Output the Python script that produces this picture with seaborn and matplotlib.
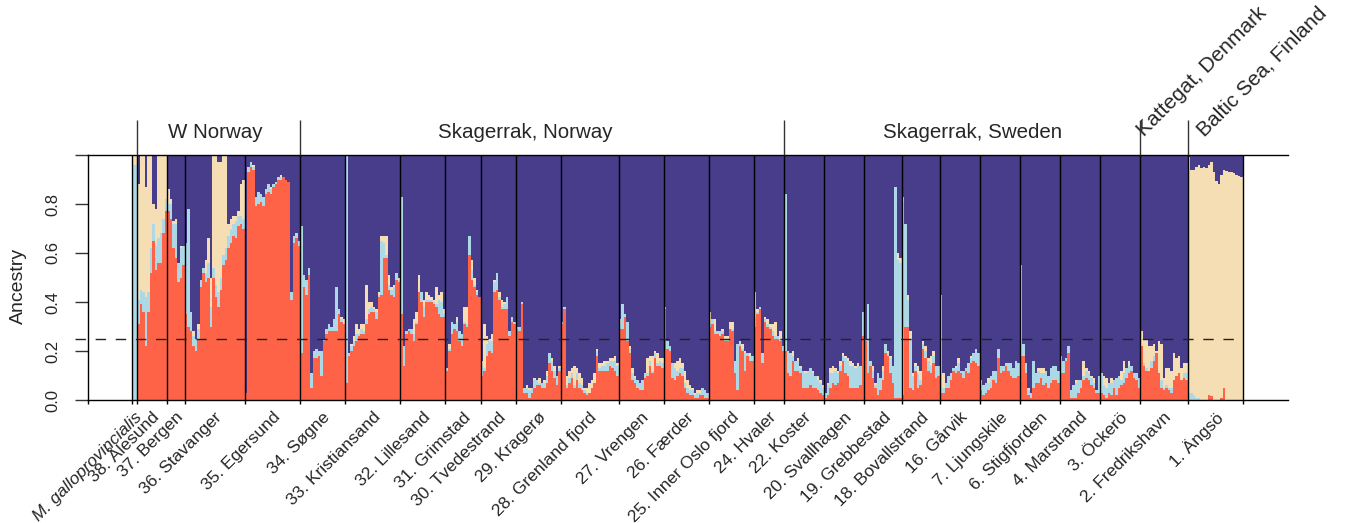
import numpy as np
import pandas as pd
import matplotlib
matplotlib.use("Agg")
import matplotlib.pyplot as plt
import matplotlib.transforms as mtransforms
import seaborn as sns

# ---------------- data ----------------
pop_labels = ["M. galloprovincialis", "38. Ålesund", "37. Bergen", "36. Stavanger",
              "35. Egersund", "34. Søgne", "33. Kristiansand", "32. Lillesand",
              "31. Grimstad", "30. Tvedestrand", "29. Kragerø", "28. Grenland fjord",
              "27. Vrengen", "26. Færder", "25. Inner Oslo fjord", "24. Hvaler",
              "22. Koster", "20. Svallhagen", "19. Grebbestad", "18. Bovallstrand",
              "16. Gårvik", "7. Ljungskile", "6. Stigfjorden", "4. Marstrand",
              "3. Öckerö", "2. Fredrikshavn", "1. Ängsö"]

# ancestry component K1 (red), per individual, per population
red = [
    [0.0, 0.0],
    [0.31, 0.39, 0.36, 0.22, 0.36, 0.52, 0.65, 0.53, 0.56, 0.56, 0.68, 0.77],
    [0.77, 0.74, 0.62, 0.58, 0.48, 0.50, 0.55],
    [0.35, 0.30, 0.28, 0.22, 0.20, 0.25, 0.46, 0.52, 0.48, 0.50, 0.30, 0.50,
     0.42, 0.38, 0.45, 0.55, 0.57, 0.62, 0.64, 0.67, 0.66, 0.71, 0.72, 0.70],
    [0.03, 0.93, 0.95, 0.94, 0.79, 0.80, 0.81, 0.79, 0.84, 0.85, 0.84, 0.87,
     0.88, 0.90, 0.90, 0.91, 0.90, 0.89, 0.41, 0.64, 0.66, 0.63],
    [0.19, 0.46, 0.43, 0.51, 0.05, 0.17, 0.17, 0.18, 0.10, 0.24, 0.27, 0.28,
     0.28, 0.28, 0.28, 0.35, 0.32, 0.31],
    [0.07, 0.18, 0.20, 0.22, 0.24, 0.26, 0.27, 0.27, 0.31, 0.35, 0.36, 0.36,
     0.33, 0.42, 0.43, 0.58, 0.58, 0.45, 0.43, 0.42, 0.49, 0.48],
    [0.35, 0.14, 0.27, 0.28, 0.27, 0.24, 0.31, 0.44, 0.40, 0.34, 0.40, 0.40,
     0.40, 0.39, 0.38, 0.35, 0.34, 0.34],
    [0.12, 0.20, 0.27, 0.29, 0.28, 0.24, 0.22, 0.31, 0.30, 0.59, 0.49, 0.46, 0.43, 0.42],
    [0.10, 0.12, 0.18, 0.20, 0.19, 0.44, 0.45, 0.41, 0.37, 0.37, 0.37, 0.26, 0.32, 0.31],
    [0.29, 0.28, 0.39, 0.03, 0.03, 0.01, 0.03, 0.05, 0.06, 0.06, 0.05, 0.05,
     0.07, 0.15, 0.12, 0.09, 0.06, 0.12],
    [0.31, 0.37, 0.05, 0.07, 0.09, 0.05, 0.08, 0.05, 0.04, 0.03, 0.02, 0.03,
     0.05, 0.07, 0.18, 0.12, 0.12, 0.12, 0.12, 0.14, 0.13, 0.12, 0.10],
    [0.29, 0.29, 0.34, 0.24, 0.19, 0.08, 0.07, 0.05, 0.04, 0.04, 0.09, 0.10,
     0.14, 0.11, 0.17, 0.14, 0.14, 0.13],
    [0.37, 0.21, 0.20, 0.09, 0.08, 0.10, 0.11, 0.10, 0.05, 0.03, 0.02, 0.02,
     0.01, 0.01, 0.02, 0.02, 0.01, 0.01],
    [0.30, 0.31, 0.27, 0.27, 0.26, 0.27, 0.24, 0.24, 0.29, 0.28, 0.11, 0.04,
     0.22, 0.20, 0.12, 0.18, 0.16, 0.16],
    [0.30, 0.35, 0.37, 0.15, 0.32, 0.30, 0.29, 0.26, 0.25, 0.25, 0.24, 0.20],
    [0.20, 0.11, 0.10, 0.16, 0.12, 0.12, 0.11, 0.05, 0.05, 0.05, 0.06, 0.05,
     0.05, 0.04, 0.03, 0.02],
    [0.01, 0.02, 0.05, 0.07, 0.06, 0.07, 0.12, 0.16, 0.11, 0.10, 0.05, 0.05,
     0.05, 0.05, 0.06, 0.26],
    [0.24, 0.11, 0.14, 0.09, 0.05, 0.02, 0.04, 0.08, 0.19, 0.18, 0.11, 0.07,
     0.01, 0.01, 0.01],
    [0.02, 0.30, 0.30, 0.05, 0.04, 0.12, 0.05, 0.06, 0.21, 0.17, 0.12, 0.11,
     0.15, 0.09, 0.10],
    [0.03, 0.03, 0.05, 0.05, 0.08, 0.12, 0.11, 0.12, 0.11, 0.09, 0.12, 0.11,
     0.15, 0.16, 0.15, 0.14],
    [0.04, 0.02, 0.03, 0.04, 0.05, 0.08, 0.07, 0.17, 0.11, 0.12, 0.14, 0.12,
     0.10, 0.09, 0.09, 0.10],
    [0.18, 0.18, 0.11, 0.02, 0.01, 0.05, 0.07, 0.07, 0.09, 0.06, 0.07, 0.05,
     0.07, 0.08, 0.08, 0.07],
    [0.11, 0.11, 0.16, 0.19, 0.01, 0.01, 0.01, 0.03, 0.05, 0.08, 0.09, 0.08,
     0.06, 0.05, 0.03, 0.03],
    [0.03, 0.02, 0.01, 0.03, 0.02, 0.05, 0.02, 0.05, 0.06, 0.07, 0.09, 0.11,
     0.12, 0.09, 0.08, 0.05],
    [0.22, 0.14, 0.12, 0.12, 0.13, 0.16, 0.19, 0.11, 0.05, 0.04, 0.05, 0.04,
     0.03, 0.08, 0.10, 0.11, 0.08, 0.09, 0.08],
    [0.0, 0.0, 0.0, 0.0, 0.0, 0.0, 0.0, 0.0, 0.02, 0.015, 0.0, 0.0, 0.0, 0.01,
     0.05, 0.0, 0.0, 0.0, 0.0, 0.0, 0.0, 0.0],
]

# ancestry component K2 (light blue)
light_blue = [
    [0.96, 0.96],
    [0.10, 0.06, 0.08, 0.20, 0.08, 0.10, 0.07, 0.10, 0.10, 0.12, 0.06, 0.05],
    [0.03, 0.06, 0.10, 0.14, 0.08, 0.12, 0.08],
    [0.29, 0.48, 0.08, 0.04, 0.05, 0.04, 0.03, 0.02, 0.04, 0.06, 0.08, 0.04,
     0.05, 0.06, 0.05, 0.04, 0.05, 0.05, 0.06, 0.05, 0.07, 0.04, 0.03, 0.04],
    [0.0, 0.02, 0.02, 0.01, 0.04, 0.05, 0.03, 0.04, 0.02, 0.03, 0.02, 0.01,
     0.01, 0.01, 0.01, 0.0, 0.0, 0.0, 0.03, 0.03, 0.02, 0.02],
    [0.52, 0.05, 0.06, 0.03, 0.06, 0.03, 0.04, 0.02, 0.10, 0.01, 0.02, 0.03,
     0.02, 0.05, 0.18, 0.02, 0.01, 0.0],
    [0.93, 0.01, 0.02, 0.02, 0.03, 0.01, 0.02, 0.01, 0.02, 0.02, 0.02, 0.01,
     0.03, 0.01, 0.22, 0.06, 0.01, 0.02, 0.02, 0.04, 0.03, 0.01],
    [0.48, 0.08, 0.01, 0.01, 0.02, 0.03, 0.01, 0.0, 0.04, 0.04, 0.01, 0.01,
     0.01, 0.01, 0.01, 0.06, 0.06, 0.01],
    [0.01, 0.01, 0.05, 0.02, 0.04, 0.04, 0.05, 0.01, 0.01, 0.08, 0.04, 0.01, 0.01, 0.0],
    [0.04, 0.01, 0.05, 0.04, 0.05, 0.04, 0.07, 0.01, 0.01, 0.02, 0.05, 0.02, 0.02, 0.01],
    [0.01, 0.02, 0.01, 0.02, 0.02, 0.03, 0.02, 0.03, 0.02, 0.01, 0.02, 0.02,
     0.03, 0.04, 0.04, 0.03, 0.04, 0.01],
    [0.01, 0.01, 0.01, 0.02, 0.02, 0.01, 0.03, 0.02, 0.02, 0.01, 0.01, 0.0,
     0.0, 0.0, 0.02, 0.01, 0.02, 0.02, 0.03, 0.02, 0.03, 0.04, 0.04],
    [0.02, 0.10, 0.01, 0.08, 0.02, 0.03, 0.02, 0.03, 0.03, 0.04, 0.02, 0.01,
     0.02, 0.01, 0.02, 0.01, 0.02, 0.02],
    [0.01, 0.03, 0.02, 0.06, 0.05, 0.02, 0.02, 0.03, 0.02, 0.02, 0.02, 0.02,
     0.01, 0.02, 0.01, 0.03, 0.03, 0.02],
    [0.01, 0.02, 0.01, 0.01, 0.02, 0.01, 0.01, 0.01, 0.0, 0.01, 0.05, 0.19,
     0.02, 0.01, 0.07, 0.01, 0.02, 0.02],
    [0.04, 0.01, 0.01, 0.04, 0.01, 0.01, 0.01, 0.02, 0.01, 0.01, 0.01, 0.02],
    [0.64, 0.09, 0.09, 0.02, 0.04, 0.04, 0.02, 0.07, 0.06, 0.07, 0.07, 0.06,
     0.05, 0.04, 0.04, 0.03],
    [0.02, 0.04, 0.06, 0.04, 0.06, 0.04, 0.02, 0.02, 0.06, 0.06, 0.09, 0.09,
     0.08, 0.09, 0.08, 0.10],
    [0.01, 0.28, 0.02, 0.03, 0.01, 0.09, 0.05, 0.04, 0.04, 0.01, 0.06, 0.07,
     0.86, 0.56, 0.55],
    [0.79, 0.42, 0.11, 0.20, 0.06, 0.02, 0.06, 0.02, 0.02, 0.03, 0.04, 0.03,
     0.03, 0.05, 0.04],
    [0.40, 0.02, 0.02, 0.05, 0.03, 0.01, 0.02, 0.03, 0.01, 0.03, 0.01, 0.04,
     0.02, 0.03, 0.06, 0.05],
    [0.03, 0.04, 0.04, 0.03, 0.05, 0.04, 0.05, 0.04, 0.03, 0.02, 0.01, 0.03,
     0.05, 0.04, 0.07, 0.05],
    [0.37, 0.05, 0.04, 0.02, 0.02, 0.11, 0.04, 0.05, 0.02, 0.05, 0.05, 0.05,
     0.06, 0.06, 0.06, 0.05],
    [0.07, 0.05, 0.01, 0.03, 0.03, 0.05, 0.06, 0.05, 0.03, 0.02, 0.03, 0.03,
     0.03, 0.02, 0.01, 0.07],
    [0.08, 0.04, 0.04, 0.04, 0.05, 0.03, 0.07, 0.05, 0.02, 0.04, 0.04, 0.03,
     0.02, 0.02, 0.03, 0.04],
    [0.0, 0.01, 0.01, 0.0, 0.03, 0.02, 0.0, 0.0, 0.03, 0.01, 0.01, 0.01,
     0.02, 0.0, 0.0, 0.0, 0.0, 0.02, 0.03],
    [0.03, 0.03, 0.02, 0.01, 0.01, 0.0, 0.0, 0.0, 0.0, 0.0, 0.0, 0.0, 0.0, 0.0,
     0.0, 0.0, 0.0, 0.0, 0.0, 0.0, 0.0, 0.0],
]

# ancestry component K3 (wheat)
wheat = [
    [0.04, 0.04],
    [0.47, 0.55, 0.56, 0.45, 0.56, 0.38, 0.08, 0.15, 0.34, 0.32, 0.26, 0.18],
    [0.06, 0.02, 0.01, 0.02, 0.0, 0.01, 0.0],
    [0.0, 0.0, 0.0, 0.02, 0.0, 0.02, 0.0, 0.0, 0.05, 0.10, 0.12, 0.46,
     0.53, 0.53, 0.47, 0.41, 0.38, 0.05, 0.04, 0.03, 0.02, 0.02, 0.13, 0.16],
    [0.0, 0.0, 0.0, 0.01, 0.0, 0.0, 0.0, 0.0, 0.0, 0.0, 0.01, 0.0,
     0.0, 0.0, 0.01, 0.0, 0.0, 0.0, 0.0, 0.0, 0.0, 0.0],
    [0.0, 0.0, 0.0, 0.0, 0.0, 0.0, 0.0, 0.0, 0.0, 0.0, 0.0, 0.0,
     0.0, 0.0, 0.0, 0.0, 0.01, 0.02],
    [0.0, 0.0, 0.01, 0.02, 0.04, 0.02, 0.02, 0.03, 0.14, 0.03, 0.02, 0.01,
     0.01, 0.01, 0.02, 0.03, 0.08, 0.04, 0.01, 0.01, 0.0, 0.01],
    [0.0, 0.0, 0.0, 0.0, 0.0, 0.06, 0.04, 0.07, 0.0, 0.03, 0.03, 0.02,
     0.01, 0.01, 0.07, 0.02, 0.04, 0.02],
    [0.0, 0.02, 0.0, 0.0, 0.02, 0.0, 0.0, 0.06, 0.07, 0.0, 0.04, 0.03, 0.01, 0.0],
    [0.02, 0.18, 0.03, 0.01, 0.03, 0.01, 0.0, 0.02, 0.03, 0.01, 0.0, 0.0, 0.0, 0.0],
    [0.0, 0.0, 0.0, 0.0, 0.01, 0.01, 0.0, 0.01, 0.0, 0.02, 0.0, 0.01,
     0.02, 0.0, 0.01, 0.02, 0.0, 0.01],
    [0.0, 0.0, 0.04, 0.03, 0.02, 0.08, 0.02, 0.04, 0.03, 0.01, 0.02, 0.04,
     0.03, 0.04, 0.01, 0.02, 0.01, 0.02, 0.01, 0.01, 0.01, 0.02, 0.01],
    [0.02, 0.0, 0.0, 0.0, 0.01, 0.02, 0.01, 0.0, 0.0, 0.0, 0.0, 0.06,
     0.02, 0.06, 0.01, 0.04, 0.01, 0.02],
    [0.0, 0.0, 0.0, 0.0, 0.02, 0.04, 0.04, 0.02, 0.05, 0.03, 0.02, 0.01,
     0.01, 0.01, 0.01, 0.0, 0.0, 0.0],
    [0.05, 0.0, 0.05, 0.0, 0.0, 0.01, 0.01, 0.01, 0.03, 0.03, 0.0, 0.0,
     0.0, 0.02, 0.01, 0.0, 0.01, 0.0],
    [0.10, 0.01, 0.0, 0.0, 0.01, 0.02, 0.01, 0.03, 0.06, 0.0, 0.03, 0.0],
    [0.0, 0.0, 0.0, 0.02, 0.0, 0.01, 0.01, 0.0, 0.01, 0.0, 0.0, 0.01,
     0.0, 0.02, 0.01, 0.01],
    [0.0, 0.01, 0.02, 0.03, 0.01, 0.01, 0.02, 0.01, 0.01, 0.01, 0.02, 0.01,
     0.01, 0.01, 0.0, 0.0],
    [0.0, 0.0, 0.0, 0.02, 0.01, 0.0, 0.0, 0.02, 0.0, 0.01, 0.01, 0.0,
     0.0, 0.03, 0.02],
    [0.02, 0.0, 0.02, 0.03, 0.01, 0.01, 0.03, 0.04, 0.01, 0.02, 0.01, 0.04,
     0.02, 0.0, 0.0],
    [0.0, 0.06, 0.0, 0.0, 0.0, 0.0, 0.01, 0.02, 0.0, 0.0, 0.0, 0.0,
     0.01, 0.0, 0.0, 0.0],
    [0.01, 0.0, 0.0, 0.02, 0.0, 0.0, 0.0, 0.0, 0.0, 0.0, 0.0, 0.0,
     0.0, 0.0, 0.0, 0.0],
    [0.0, 0.0, 0.0, 0.01, 0.0, 0.0, 0.0, 0.01, 0.02, 0.02, 0.0, 0.0,
     0.0, 0.0, 0.0, 0.0],
    [0.0, 0.0, 0.0, 0.0, 0.0, 0.0, 0.01, 0.0, 0.0, 0.06, 0.01, 0.01,
     0.01, 0.02, 0.0, 0.0],
    [0.0, 0.04, 0.04, 0.0, 0.02, 0.0, 0.0, 0.0, 0.04, 0.05, 0.0, 0.02,
     0.0, 0.0, 0.0, 0.0],
    [0.06, 0.10, 0.12, 0.10, 0.06, 0.05, 0.01, 0.13, 0.15, 0.04, 0.07, 0.08,
     0.07, 0.11, 0.07, 0.07, 0.05, 0.04, 0.04],
    [0.96, 0.91, 0.92, 0.94, 0.95, 0.945, 0.95, 0.945, 0.94, 0.955, 0.93, 0.895,
     0.88, 0.91, 0.89, 0.935, 0.93, 0.93, 0.925, 0.92, 0.915, 0.91],
]
# the 4th component (dark blue) is the remainder to 1

region_names = ["W Norway", "Skagerrak, Norway", "Skagerrak, Sweden",
                "Kattegat, Denmark", "Baltic Sea, Finland"]
region_first_pop = [1, 5, 16, 25, 26]

# ---------------- style ----------------
sns.set_style("white")
plt.rcParams["font.family"] = ["Liberation Sans", "DejaVu Sans"]

C_RED, C_LB, C_WHEAT, C_BLUE = "#FF6347", "#ADD8E6", "#F5DEB3", "#483D8B"

# ---------------- assemble ----------------
counts = [len(r) for r in red]
bounds = np.concatenate([[0], np.cumsum(counts)])
n_total = int(bounds[-1])
r_all = np.concatenate([np.array(v, float) for v in red])
lb_all = np.concatenate([np.array(v, float) for v in light_blue])
w_all = np.concatenate([np.array(v, float) for v in wheat])
pos = np.arange(n_total) + 0.5

df = pd.DataFrame({
    "pos": pos,
    "k1": np.minimum(r_all, 1),
    "k12": np.minimum(r_all + lb_all, 1),
    "k123": np.minimum(r_all + lb_all + w_all, 1),
    "all": np.ones(n_total),
})

W, H = 1346, 523
fig = plt.figure(figsize=(W / 100, H / 100), dpi=100)
ax_l, ax_r, ax_t, ax_b = 88, 1288, 155, 400
ax = fig.add_axes([ax_l / W, 1 - ax_b / H, (ax_r - ax_l) / W, (ax_b - ax_t) / H])

px_per = (1243 - 132) / n_total
x0 = -(132 - ax_l) / px_per
x1 = n_total + (ax_r - 1243) / px_per

for col, c in [("all", C_BLUE), ("k123", C_WHEAT), ("k12", C_LB), ("k1", C_RED)]:
    sns.barplot(data=df, x="pos", y=col, native_scale=True, width=1, color=c,
                saturation=1, linewidth=0, errorbar=None, antialiased=False, ax=ax)

ax.set_xlim(x0, x1)
ax.set_ylim(0, 1)
ax.set_xlabel("")
ax.set_ylabel("")

# population boundaries
ax.vlines(bounds, 0, 1, color="black", lw=1.0, zorder=5)
# region boundary lines extending above the plot
region_bounds = [bounds[i] for i in region_first_pop]
ax.vlines(region_bounds, 1, 1.143, color="#333333", lw=1.0, zorder=5, clip_on=False)

# dashed 0.25 line
ax.plot([-(132 - 75) / px_per, n_total], [0.25, 0.25], color="#222222", lw=1.0,
        dashes=(7.5, 7.0), zorder=6, clip_on=False)

# spines
for s in ["top", "bottom", "left"]:
    ax.spines[s].set_visible(True)
    ax.spines[s].set_color("black")
    ax.spines[s].set_linewidth(1.0)
ax.spines["right"].set_visible(False)

# y axis
ax.set_yticks([0, 0.2, 0.4, 0.6, 0.8, 1.0])
ax.set_yticklabels(["0.0", "0.2", "0.4", "0.6", "0.8", ""])
ax.tick_params(axis="y", left=True, length=9.4, width=1.0, pad=10.5,
               labelsize=12, labelrotation=90, color="#333333")
for lab in ax.get_yticklabels():
    lab.set_va("center")
fig.text(18 / W, 1 - 286 / H, "Ancestry", rotation=90, ha="center", va="center",
         fontsize=14)

# x ticks at boundaries
ax.set_xticks(list(bounds) + [x0])
ax.set_xticklabels([])
ax.tick_params(axis="x", bottom=True, length=3.2, width=1.0, color="black")

# population labels
trans = mtransforms.blended_transform_factory(ax.transData, ax.transAxes)
mids = (bounds[:-1] + bounds[1:]) / 2
for i, (m, lab) in enumerate(zip(mids, pop_labels)):
    ax.text(m + 5 / px_per, -15 / (ax_b - ax_t), lab, transform=trans, rotation=45,
            rotation_mode="anchor", ha="right", va="center", fontsize=12.5,
            style="italic" if i == 0 else "normal")

# region labels
reg_x = [33, 157, 335]
for name, xr in zip(region_names[:3], reg_x):
    ax.text(xr, (400 - 132) / 245, name, ha="center", va="center", fontsize=14.8,
            clip_on=False)
for name, xr in zip(region_names[3:], [403.5, 427.5]):
    ax.text(xr, (400 - 137) / 245, name, ha="left", va="baseline", rotation=45,
            rotation_mode="anchor", fontsize=15, clip_on=False)

fig.savefig("out.png", dpi=100)
